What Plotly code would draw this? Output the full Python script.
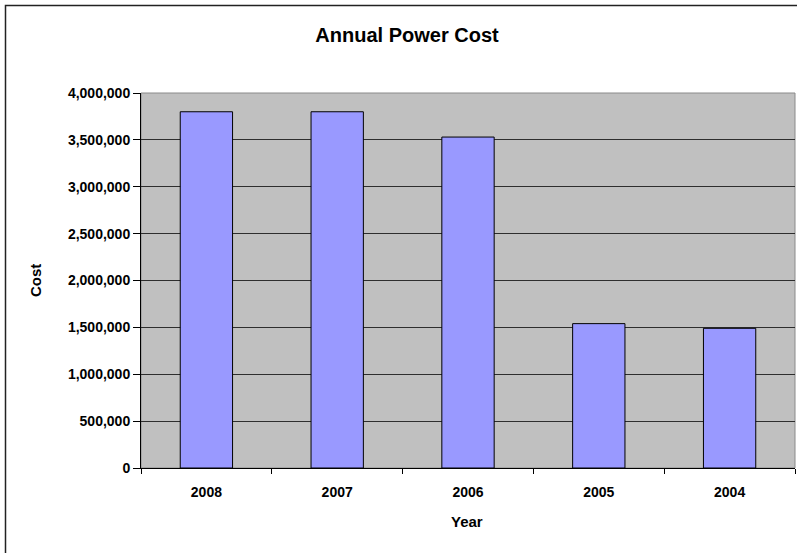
import plotly.graph_objects as go

years = ["2008", "2007", "2006", "2005", "2004"]
costs = [3800000, 3800000, 3530000, 1540000, 1490000]
y_ticks = [0, 500000, 1000000, 1500000, 2000000, 2500000, 3000000, 3500000, 4000000]

FONT = "Liberation Sans, Arial, sans-serif"

fig = go.Figure()
fig.add_trace(go.Bar(
    x=years, y=costs, width=0.4,
    marker=dict(color="#9999FF", line=dict(color="#000000", width=1)),
))

W, H = 797, 553
L, R, T, B = 141, 2, 93, 85

fig.update_layout(
    width=W, height=H,
    margin=dict(l=L, r=R, t=T, b=B),
    paper_bgcolor="white",
    plot_bgcolor="#C0C0C0",
    showlegend=False,
    font=dict(family=FONT, color="black"),
    title=dict(text="Annual Power Cost", x=407 / W, xref="container", xanchor="center",
               y=1 - 35 / H, yref="container", yanchor="middle",
               font=dict(size=20, weight="bold", family=FONT)),
    xaxis=dict(type="category", ticks="outside", tickson="boundaries", ticklen=5,
               tickcolor="black", showline=True, linecolor="black", linewidth=1,
               tickfont=dict(size=14, weight="bold", family=FONT),
               ticklabelstandoff=11,
               showgrid=False),
    yaxis=dict(range=[0, 4000000], tickvals=y_ticks, tickformat=",d",
               ticks="outside", ticklen=7, tickcolor="black",
               showline=True, linecolor="black", linewidth=1,
               showgrid=True, gridcolor="#2e2e2e", gridwidth=1,
               zeroline=False,
               tickfont=dict(size=14, weight="bold", family=FONT)),
    annotations=[
        dict(text="Cost", x=0, y=0, xref="paper", yref="paper",
             showarrow=False, textangle=-90, font=dict(size=15, weight="bold", family=FONT)),
        dict(text="Year", x=0.5, y=0, xref="paper", yref="paper",
             showarrow=False, font=dict(size=15, weight="bold", family=FONT)),
    ],
)

pw = W - L - R
ph = H - T - B
def px_to_paper(px, py):
    return (px - L) / pw, (H - B - py) / ph

cx, cy = px_to_paper(35, 281)
yx, yy = px_to_paper(467, 521)
fig.layout.annotations[0].update(x=cx, y=cy, xanchor="center", yanchor="middle")
fig.layout.annotations[1].update(x=yx, y=yy, xanchor="center", yanchor="middle")

bx0, by0 = px_to_paper(5.5, 5.5)
fig.add_shape(type="rect", xref="paper", yref="paper", x0=0, x1=1, y0=0, y1=1,
              line=dict(color="#8a8a8a", width=1), layer="below")
fig.add_shape(type="rect", xref="paper", yref="paper", x0=bx0, x1=1.2, y0=-0.5, y1=by0,
              line=dict(color="#222222", width=1.5), fillcolor="rgba(0,0,0,0)")

fig.write_html("out.html")
